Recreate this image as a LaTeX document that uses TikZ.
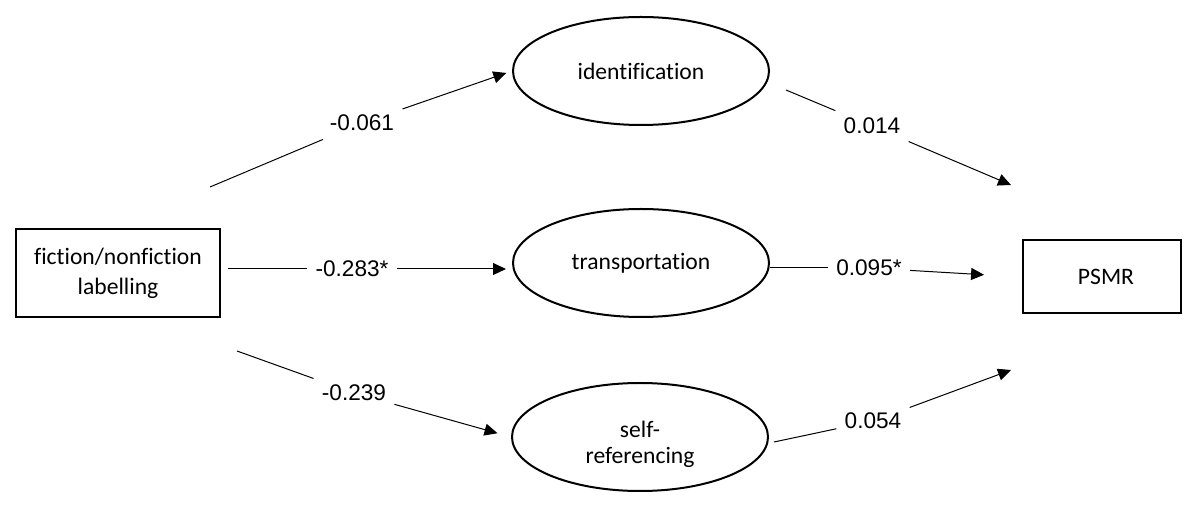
\documentclass[tikz,border=0pt]{standalone}
\usepackage{fontspec}
\setmainfont{Carlito}[Ligatures=CommonOff]
\newfontfamily\numfont{Liberation Sans}
\usepackage{tikz}
\usetikzlibrary{shapes.geometric,arrows.meta}

\begin{document}
\begin{tikzpicture}[x=0.5pt,y=-0.5pt,
    latent/.style={ellipse,draw,line width=1pt,inner sep=0pt,minimum width=128pt,minimum height=54pt,align=center,font=\fontsize{11.8}{14}\selectfont},
    observed/.style={rectangle,draw,line width=1pt,align=center,font=\fontsize{11.8}{15}\selectfont},
    coef/.style={inner sep=4pt,font=\numfont\fontsize{11.3}{13}\selectfont},
    seg/.style={line width=0.5pt},
    link/.style={line width=0.5pt,-{Triangle[length=6.5pt,width=6pt]}}]
            \useasboundingbox (0,0) rectangle (1200,507);
            \node [observed,minimum width=102pt,minimum height=44pt] (lab) at (118,273) {fiction/nonfiction\\labelling};
            \node [observed,minimum width=79pt,minimum height=36.5pt] (psmr) at (1102,277) {\hspace*{4pt}PSMR};
            \node [latent] (ident) at (641,71) {identification};
            \node [latent] (trans) at (641,263) {transportation};
            \node [latent] (selfref) at (640,437) {\rule{0pt}{16pt}self-\\[-1pt]referencing};
            \node [coef] (w1) at (362,123) {-0.061};
            \node [coef] (w2) at (352,269) {-0.283*};
            \node [coef] (w3) at (354,393) {-0.239};
            \node [coef] (w4) at (872,126) {0.014};
            \node [coef] (w5) at (869,268) {0.095*};
            \node [coef] (w6) at (873,421) {0.054};
            \coordinate (s1) at (210,187);
            \coordinate (s3) at (237,351);
            \coordinate (s4) at (786,90);
            \coordinate (e4) at (1011,185);
            \coordinate (s6) at (774,442);
            \coordinate (e6) at (1011,370);
            \draw [seg] (s1) -- (w1);
            \draw [link,shorten >=3pt] (w1) -- (ident.west);
            \draw [seg,shorten <=3.5pt] (lab.east |- w2) -- (w2);
            \draw [link,shorten >=3pt] (w2) -- (w2 -| trans.west);
            \draw [seg] (s3) -- (w3);
            \draw [link,shorten >=7pt] (w3) -- (selfref.west);
            \draw [seg] (s4) -- (w4);
            \draw [link] (w4) -- (e4);
            \draw [seg] (trans.east |- w5) -- (w5);
            \draw [link,shorten >=19pt] (w5) -- (psmr.west);
            \draw [seg] (s6) -- (w6);
            \draw [link] (w6) -- (e6);
\end{tikzpicture}
\end{document}
